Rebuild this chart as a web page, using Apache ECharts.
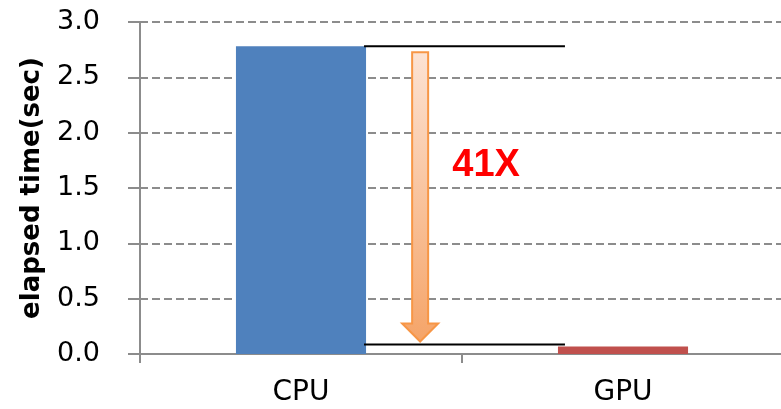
<!DOCTYPE html>
<html>
<head>
<meta charset="utf-8">
<script src="https://cdn.jsdelivr.net/npm/echarts@6/dist/echarts.min.js"></script>
<style>
  html, body { margin: 0; padding: 0; background: #fff; overflow: hidden; }
  #chart { width: 784px; height: 409px; }
</style>
</head>
<body>
<div id="chart"></div>
<script>
// Elapsed time of the same workload on CPU and GPU
const categories = ['CPU', 'GPU'];
const elapsedSec = [2.78, 0.068];
const yTicks = { min: 0, max: 3, step: 0.5 };
const barColors = ['#4F81BD', '#C0504D'];

const speedup = Math.round(elapsedSec[0] / elapsedSec[1]);

const chart = echarts.init(document.getElementById('chart'), null, { renderer: 'canvas' });

// Bracket lines + downward arrow + speed-up label between the two bars
function renderSpeedup(params, api) {
  const band = api.size([1, 0])[0];
  const barW = band * 0.404;
  const top = api.coord([0, elapsedSec[0]]);
  const bot = api.coord([1, elapsedSec[1]]);
  const x0 = top[0] + barW / 2 - 2;
  const x1 = bot[0] - barW / 2 + 7;
  const yTop = top[1];
  const yBot = bot[1] - 2;
  const ax = top[0] + band * 0.37;
  const shaftHalf = 8;
  const headHalf = 18;
  const arrowTop = yTop + 6;
  const headStart = yBot - 21;
  const tip = yBot - 3;
  return {
    type: 'group',
    children: [
      { type: 'line', shape: { x1: x0, y1: yTop, x2: x1, y2: yTop },
        style: { stroke: '#000', lineWidth: 2 } },
      { type: 'line', shape: { x1: x0, y1: yBot, x2: x1, y2: yBot },
        style: { stroke: '#000', lineWidth: 2 } },
      { type: 'polygon',
        shape: { points: [
          [ax - shaftHalf, arrowTop], [ax + shaftHalf, arrowTop],
          [ax + shaftHalf, headStart], [ax + headHalf, headStart],
          [ax, tip], [ax - headHalf, headStart], [ax - shaftHalf, headStart]
        ] },
        style: {
          fill: new echarts.graphic.LinearGradient(0, 0, 0, 1, [
            { offset: 0, color: '#FCE3D4' },
            { offset: 1, color: '#F5A468' }
          ]),
          stroke: '#F79646', lineWidth: 2
        } },
      { type: 'text',
        style: {
          x: ax + 66, y: api.coord([0, 1.7])[1],
          text: speedup + 'X',
          fill: '#FF0000',
          font: 'bold 38px "Liberation Sans", Arial, sans-serif',
          align: 'center', verticalAlign: 'middle'
        } }
    ]
  };
}

chart.setOption({
  animation: false,
  grid: { left: 140, right: 0, top: 22, bottom: 55, containLabel: false },
  xAxis: {
    type: 'category',
    data: categories,
    boundaryGap: true,
    axisLine: { show: true, lineStyle: { color: '#8C8C8C', width: 2 } },
    axisTick: { show: true, length: 9, alignWithLabel: false, lineStyle: { color: '#8C8C8C', width: 2 } },
    axisLabel: { color: '#000', fontSize: 28, fontFamily: '"DejaVu Sans", sans-serif', margin: 25 },
    splitLine: { show: false }
  },
  yAxis: {
    type: 'value',
    min: yTicks.min, max: yTicks.max, interval: yTicks.step,
    name: 'elapsed time(sec)',
    nameLocation: 'middle',
    nameGap: 95,
    nameTextStyle: { color: '#000', fontSize: 26, fontWeight: 'bold', fontFamily: '"DejaVu Sans", sans-serif' },
    axisLine: { show: true, lineStyle: { color: '#8C8C8C', width: 2 } },
    axisTick: { show: true, length: 12, lineStyle: { color: '#8C8C8C', width: 2 } },
    axisLabel: {
      color: '#000', fontSize: 27, fontFamily: '"DejaVu Sans", sans-serif', margin: 40,
      formatter: v => v.toFixed(1)
    },
    splitLine: { show: true, lineStyle: { color: '#8C8C8C', width: 2, type: [8, 4] } }
  },
  series: [
    {
      type: 'bar',
      data: elapsedSec.map((v, i) => ({ value: v, itemStyle: { color: barColors[i] } })),
      barWidth: '40.4%'
    },
    {
      type: 'custom',
      renderItem: renderSpeedup,
      data: [0],
      silent: true,
      z: 5
    }
  ]
});
</script>
</body>
</html>
